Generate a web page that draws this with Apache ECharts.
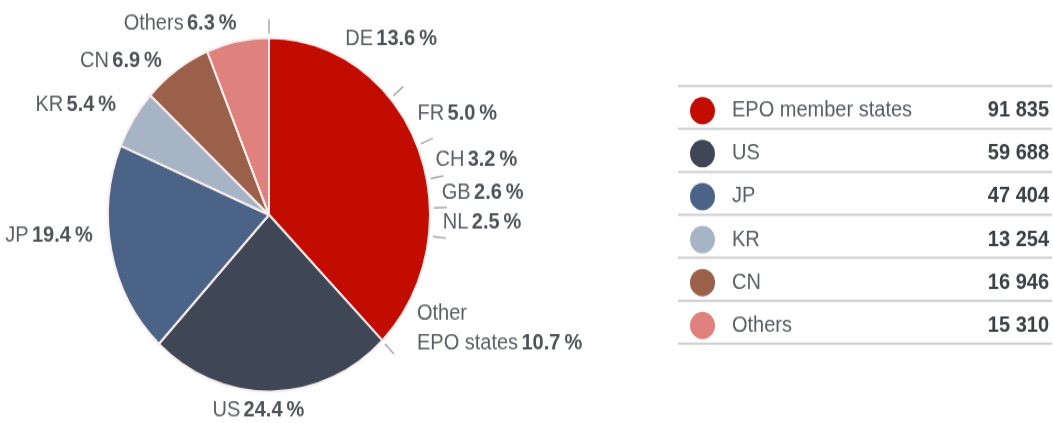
<!DOCTYPE html>
<html>
<head>
<meta charset="utf-8">
<script src="https://cdn.jsdelivr.net/npm/echarts@6/dist/echarts.min.js"></script>
<style>
  html, body { margin: 0; padding: 0; background: #fff; width: 1053px; height: 423px; }
  /* the source picture is stretched a little vertically */
  #main { width: 1053px; height: 385px; transform: scaleY(1.0987); transform-origin: 0 0; }
</style>
</head>
<body>
<div id="main"></div>
<script>
// applications by origin
var groups = ['EPO member states', 'US', 'JP', 'KR', 'CN', 'Others'];
var filings = [91835, 59688, 47404, 13254, 16946, 15310];
var colors = ['#c20c00', '#3f4756', '#4a6387', '#a7b4c6', '#9b604a', '#df827d'];
// split of the EPO member states, % of all filings
var epoStates = ['DE', 'FR', 'CH', 'GB', 'NL', 'Other\nEPO states'];
var epoShare = [13.6, 5.0, 3.2, 2.6, 2.5, 10.7];

var FONT = '"Liberation Sans", Arial, sans-serif';
var center = [269, 195.5];
var R = 161;

function fmt(n) {
  return String(n).replace(/\B(?=(\d{3})+(?!\d))/g, ' ');
}

var epoSum = epoShare.reduce(function (a, b) { return a + b; }, 0);
// boundaries of the EPO sub-shares, for the little ticks
var tickVals = [0];
epoShare.forEach(function (v, i) { tickVals.push(+(tickVals[i] + v).toFixed(1)); });

var labelRich = {
  n: { fontSize: 20, color: '#5a5e63', fontFamily: FONT, lineHeight: 27 },
  b: { fontSize: 20, color: '#4f5358', fontWeight: 'bold', fontFamily: FONT, lineHeight: 27 }
};

var mainData = groups.map(function (g, i) {
  var d = { name: g, value: filings[i], itemStyle: { color: colors[i] } };
  if (i === 0) d.label = { show: false };
  return d;
});

var subData = epoStates.map(function (s, i) {
  return { name: s, value: epoShare[i] };
});
subData.push({ name: 'rest', value: +(100 - epoSum).toFixed(1), label: { show: false } });

// table rules of the legend
var rowTop = 78.2, rowH = 39.1;
var rules = [];
for (var k = 0; k <= groups.length; k++) {
  rules.push({
    type: 'line',
    shape: { x1: 678, y1: rowTop + k * rowH, x2: 1052, y2: rowTop + k * rowH },
    style: { stroke: '#cdced0', lineWidth: 2 },
    silent: true
  });
}

var chart = echarts.init(document.getElementById('main'));
var option = {
  animation: false,
  textStyle: { fontFamily: FONT },
  polar: { center: center, radius: R + 4 },
  angleAxis: {
    type: 'value', min: 0, max: 100, startAngle: 90, clockwise: true,
    axisLine: { show: false },
    axisLabel: { show: false },
    splitLine: { show: false },
    axisTick: { show: true, customValues: tickVals, length: 13, lineStyle: { color: '#a8a8a8', width: 1.5 } }
  },
  radiusAxis: { type: 'value', show: false, min: 0, max: 1 },
  legend: {
    data: groups,
    orient: 'vertical',
    left: 685,
    top: rowTop + (rowH - 25) / 2 - 2,
    itemWidth: 25,
    itemHeight: 25,
    itemGap: rowH - 25,
    icon: 'circle',
    selectedMode: false,
    itemStyle: { borderWidth: 0 },
    formatter: function (name) {
      return '{n|' + name + '}{v|' + fmt(filings[groups.indexOf(name)]) + '}';
    },
    textStyle: {
      rich: {
        n: { fontSize: 20, color: '#595d62', width: 235, padding: [0, 0, 0, 12], lineHeight: 25, fontFamily: FONT },
        v: { fontSize: 20, color: '#3c4045', fontWeight: 'bold', width: 82, align: 'right', lineHeight: 25, fontFamily: FONT }
      }
    }
  },
  graphic: rules,
  series: [
    {
      type: 'pie',
      name: 'origin',
      center: center,
      radius: R,
      startAngle: 90,
      clockwise: true,
      percentPrecision: 1,
      itemStyle: { borderColor: '#fbeeee', borderWidth: 2 },
      label: {
        position: 'outside',
        overflow: 'none',
        formatter: function (p) {
          return '{n|' + p.name + '} {b|' + p.percent.toFixed(1) + '\u2009%}';
        },
        rich: labelRich
      },
      labelLine: { show: false, length: 10, length2: 4 },
      labelLayout: function (p) {
        var g = groups[p.dataIndex];
        if (g === 'US') return { dx: -p.labelRect.width / 2 - 22, dy: 7 };
        if (g === 'JP') return { dy: -16 };
        if (g === 'Others') return { dx: 10, dy: -6 };
        if (g === 'KR') return { dy: -8 };
      },
      emphasis: { disabled: true },
      data: mainData
    },
    {
      type: 'pie',
      name: 'epo',
      center: center,
      radius: R,
      startAngle: 90,
      clockwise: true,
      silent: true,
      itemStyle: { color: 'transparent', borderWidth: 0 },
      label: {
        position: 'outside',
        overflow: 'none',
        formatter: function (p) {
          var lines = p.name.split('\n');
          var out = lines.map(function (l) { return '{n|' + l + '}'; });
          out[out.length - 1] += ' {b|' + p.value.toFixed(1) + '\u2009%}';
          return out.join('\n');
        },
        rich: labelRich
      },
      labelLine: { show: false, length: 6, length2: 2 },
      labelLayout: function (p) {
        if (p.dataIndex === 0) return { dy: -8 };
        if (p.dataIndex === 1) return { dy: -3 };
        if (p.dataIndex === epoStates.length - 1) return { dx: -9, dy: 30 };
      },
      emphasis: { disabled: true },
      data: subData
    }
  ]
};
chart.setOption(option);
</script>
</body>
</html>
